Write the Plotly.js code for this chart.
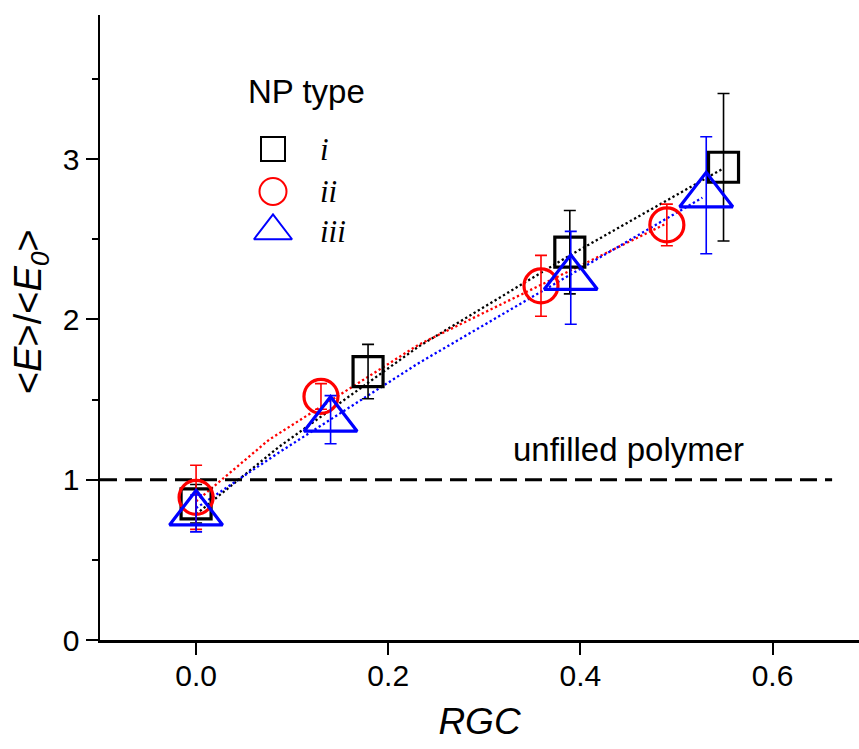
<!DOCTYPE html>
<html><head><meta charset="utf-8">
<script src="https://cdn.plot.ly/plotly-3.0.1.min.js"></script>
<style>html,body{margin:0;padding:0;background:#fff}</style>
</head><body>
<div id="chart" style="width:859px;height:749px"></div>
<script>
// ---- data ----
const seriesNames = ['i', 'ii', 'iii'];
const seriesColors = ['#000000', '#ff0000', '#0000ff'];
const seriesSymbols = ['square-open', 'circle-open', 'triangle-up-open'];

const xI = [0, 0.179, 0.389, 0.549];
const yI = [0.85, 1.675, 2.42, 2.95];
const errI = [0.12, 0.17, 0.26, 0.46];

const xII = [0, 0.130, 0.359, 0.490];
const yII = [0.89, 1.52, 2.21, 2.59];
const errII = [0.20, 0.08, 0.19, 0.13];

const xIII = [0, 0.140, 0.390, 0.531];
const yIII = [0.79, 1.375, 2.26, 2.775];
const errIII = [0.115, 0.15, 0.29, 0.365];

// dotted guide curves
const lineIx = [0, 0.0865, 0.179, 0.232, 0.389, 0.548];
const lineIy = [0.785, 1.206, 1.605, 1.833, 2.40, 2.94];
const lineIIx = [0, 0.076, 0.232, 0.441, 0.490];
const lineIIy = [0.865, 1.25, 1.844, 2.46, 2.60];
const lineIIIx = [0, 0.0865, 0.232, 0.441, 0.527];
const lineIIIy = [0.823, 1.171, 1.729, 2.458, 2.76];

// unfilled polymer reference
const refX = [-0.1, 0.662];
const refY = [1, 1];
const refLabel = 'unfilled polymer';

const xTickVals = [0, 0.2, 0.4, 0.6];
const xTickText = ['0.0', '0.2', '0.4', '0.6'];
const yTickVals = [0, 1, 2, 3];
const yTickText = ['0', '1', '2', '3'];
const legendTitle = 'NP type';

const sans = 'Liberation Sans, Arial, sans-serif';
const serif = 'Liberation Serif, Times New Roman, serif';

const xs = [xI, xII, xIII], ys = [yI, yII, yIII], es = [errI, errII, errIII];
const lxs = [lineIx, lineIIx, lineIIIx], lys = [lineIy, lineIIy, lineIIIy];
const markerSizes = [30, 34, 46];
const legendSizes = [24, 27, 33];

const traces = [];
for (let k = 0; k < 3; k++) {
  traces.push({
    x: lxs[k], y: lys[k], mode: 'lines', type: 'scatter', showlegend: false,
    line: {color: seriesColors[k], width: 2.3, dash: '2.3px,2.6px'}, hoverinfo: 'skip'
  });
}
traces.push({
  x: refX, y: refY, mode: 'lines', type: 'scatter', showlegend: false,
  line: {color: '#000', width: 3, dash: '17px,8px'}
});
for (let k = 0; k < 3; k++) {
  traces.push({
    x: xs[k], y: ys[k], mode: 'markers', type: 'scatter', name: seriesNames[k], showlegend: false,
    marker: {symbol: seriesSymbols[k], size: markerSizes[k], color: seriesColors[k], line: {width: 3.2, color: seriesColors[k]}},
    error_y: {type: 'data', array: es[k], visible: true, color: seriesColors[k], thickness: 1.6, width: 6}
  });
}
// legend drawn on an overlay pixel axis
const legX = 273, legY0 = 149, legDy = 41;
const legYs = [legY0, legY0 + legDy + 1.5, legY0 + 2 * legDy + 0];
for (let k = 0; k < 3; k++) {
  traces.push({
    x: [legX], y: [legYs[k]], xaxis: 'x2', yaxis: 'y2', mode: 'markers', type: 'scatter', showlegend: false,
    marker: {symbol: seriesSymbols[k], size: legendSizes[k], color: seriesColors[k], line: {width: 2, color: seriesColors[k]}},
    hoverinfo: 'skip'
  });
}

const annotations = [
  {xref: 'x', yref: 'y', x: 0.328, y: 1.19, xanchor: 'left', yanchor: 'middle', showarrow: false,
   text: refLabel, font: {family: sans, size: 33, color: '#000'}},
  {xref: 'x2', yref: 'y2', x: 246, y: 91, xanchor: 'left', yanchor: 'middle', showarrow: false,
   text: legendTitle, font: {family: sans, size: 33, color: '#000'}}
];
for (let k = 0; k < 3; k++) {
  annotations.push({xref: 'x2', yref: 'y2', x: 318, y: legYs[k], xanchor: 'left', yanchor: 'middle', showarrow: false,
    text: '<i>' + seriesNames[k] + '</i>', font: {family: serif, size: 31, color: '#000'}});
}

const layout = {
  width: 859, height: 749,
  margin: {l: 100, r: 0, t: 15, b: 109},
  paper_bgcolor: '#fff', plot_bgcolor: 'rgba(0,0,0,0)',
  showlegend: false,
  font: {family: sans, color: '#000'},
  xaxis: {
    range: [-0.1, 0.69], autorange: false, showgrid: false, zeroline: false,
    showline: true, linecolor: '#000', linewidth: 2.5,
    ticks: 'outside', ticklen: 12, tickwidth: 2, tickcolor: '#000',
    ticklabelstandoff: -5,
    tickvals: xTickVals, ticktext: xTickText, tickfont: {family: sans, size: 30, color: '#000'},
    title: {text: '<i>RGC</i>', font: {family: sans, size: 37, color: '#000'}, standoff: 18},
    automargin: false
  },
  yaxis: {
    range: [0, 3.9], autorange: false, showgrid: false, zeroline: false,
    showline: true, linecolor: '#000', linewidth: 2.5,
    ticks: 'outside', ticklen: 12, tickwidth: 2, tickcolor: '#000',
    tickvals: yTickVals, ticktext: yTickText, tickfont: {family: sans, size: 30, color: '#000'},
    minor: {dtick: 0.5, tick0: 0, ticks: 'outside', ticklen: 6, tickwidth: 2, tickcolor: '#000', showgrid: false},
    title: {text: '&nbsp;&nbsp;&nbsp;&lt;<i>E</i>&gt;/&lt;<i>E</i><sub><i>0</i></sub>&gt;', font: {family: sans, size: 38, color: '#000'}, standoff: 10},
    automargin: false
  },
  xaxis2: {overlaying: 'x', anchor: 'y2', range: [100, 859], autorange: false, visible: false, fixedrange: true},
  yaxis2: {overlaying: 'y', anchor: 'x2', range: [640, 15], autorange: false, visible: false, fixedrange: true},
  annotations: annotations
};

Plotly.newPlot('chart', traces, layout, {displayModeBar: false, staticPlot: true});
</script>
</body></html>
